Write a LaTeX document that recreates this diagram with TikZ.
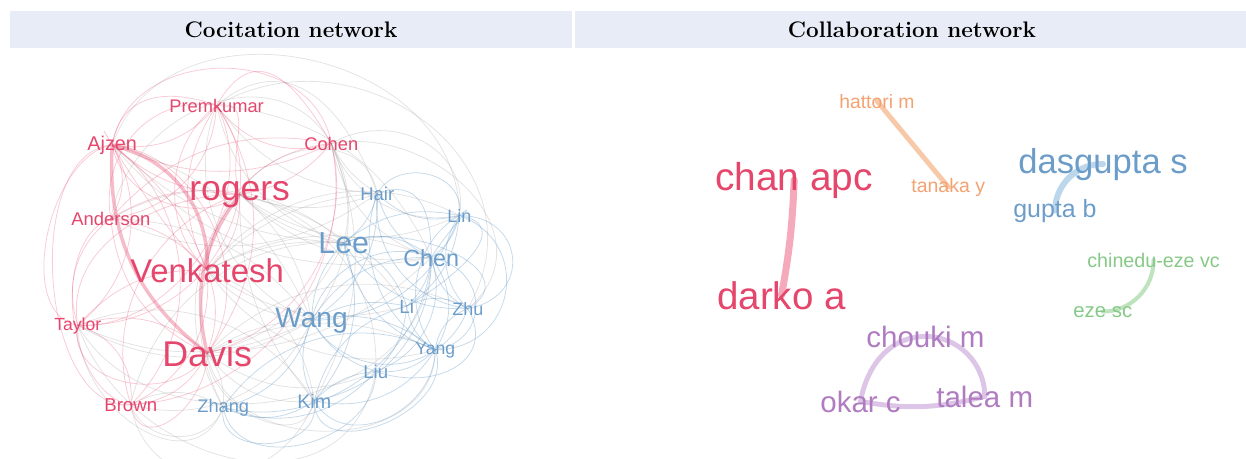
\documentclass[tikz,border=0pt]{standalone}
\usepackage{fontspec}
\setsansfont{Liberation Sans}
\pgfdeclarelayer{bg}
\pgfsetlayers{bg,main}
\definecolor{hdr}{HTML}{E8ECF6}
\definecolor{cred}{HTML}{E5466C}
\definecolor{cblue}{HTML}{6C9DC9}
\definecolor{cgray}{HTML}{9C9C9C}
\definecolor{corange}{HTML}{F3A272}
\definecolor{cpurple}{HTML}{B07CC0}
\definecolor{cgreen}{HTML}{86C987}
\definecolor{epink}{HTML}{F4AABB}
\definecolor{eorange}{HTML}{F8C9A9}
\definecolor{eblue}{HTML}{BCD6EB}
\definecolor{egreen}{HTML}{BFE3BF}
\definecolor{epurple}{HTML}{DCC5E6}
\newcommand\fsz[1]{\fontsize{#1}{#1}\selectfont}
\tikzset{
  lbl/.style={anchor=base west, inner sep=0pt},
  hdrbar/.style={fill=hdr, draw=none},
  hdrtxt/.style={anchor=base, inner sep=0pt, font=\fsz{12.8}\bfseries},
  pe/.style={draw=cred, opacity=0.28, line width=0.45pt},
  tpe/.style={draw=cred, opacity=0.36, line width=2pt},
  be/.style={draw=cblue, opacity=0.38, line width=0.45pt},
  ge/.style={draw=cgray, opacity=0.28, line width=0.45pt},
  coll/.style={line width=#1, line cap=round},
}
\begin{document}
\begin{tikzpicture}[x=0.02cm,y=0.02cm]
\useasboundingbox (0,0) rectangle (1246,458);
% headers
\fill[hdrbar] (10,410) rectangle (572,447);
\fill[hdrbar] (575,410) rectangle (1246,447);
\node[hdrtxt] (h1) at (291,421) {Cocitation network};
\node[hdrtxt] (h2) at (912,421) {Collaboration network};

% ---- cocitation labels ----
\node[lbl, text=cred, font=\sffamily\fsz{10.4}] (P) at (169,346) {Premkumar};
\node[lbl, text=cred, font=\sffamily\fsz{11.3}] (A) at (87,308) {Ajzen};
\node[lbl, text=cred, font=\sffamily\fsz{10.4}] (C) at (304,308) {Cohen};
\node[lbl, text=cred, font=\sffamily\fsz{20.2}] (R) at (189,258) {rogers};
\node[lbl, text=cred, font=\sffamily\fsz{10.5}] (An) at (71,233) {Anderson};
\node[lbl, text=cblue, font=\sffamily\fsz{10.5}] (H) at (360,258) {Hair};
\node[lbl, text=cblue, font=\sffamily\fsz{10.2}] (Ln) at (447,236) {Lin};
\node[lbl, text=cblue, font=\sffamily\fsz{17.3}] (Le) at (318,205) {Lee};
\node[lbl, text=cblue, font=\sffamily\fsz{13.3}] (Ch) at (403,192) {Chen};
\node[lbl, text=cred, font=\sffamily\fsz{18.7}] (V) at (130,176) {Venkatesh};
\node[lbl, text=cblue, font=\sffamily\fsz{16.0}] (W) at (275,131) {Wang};
\node[lbl, text=cblue, font=\sffamily\fsz{10.8}] (Li) at (399,145) {Li};
\node[lbl, text=cblue, font=\sffamily\fsz{10.2}] (Zu) at (452,143) {Zhu};
\node[lbl, text=cred, font=\sffamily\fsz{10.0}] (T) at (54,128) {Taylor};
\node[lbl, text=cred, font=\sffamily\fsz{20.4}] (D) at (162,92) {Davis};
\node[lbl, text=cblue, font=\sffamily\fsz{10.0}] (Y) at (415,104) {Yang};
\node[lbl, text=cblue, font=\sffamily\fsz{10.6}] (Lu) at (363,80) {Liu};
\node[lbl, text=cred, font=\sffamily\fsz{10.6}] (B) at (104,47) {Brown};
\node[lbl, text=cblue, font=\sffamily\fsz{10.4}] (Zg) at (197,46) {Zhang};
\node[lbl, text=cblue, font=\sffamily\fsz{11.2}] (K) at (297,50) {Kim};

% ---- collaboration labels ----
\node[lbl, text=corange, font=\sffamily\fsz{11.0}] (hat) at (839,350) {hattori m};
\node[lbl, text=corange, font=\sffamily\fsz{11.1}] (tan) at (911,266) {tanaka y};
\node[lbl, text=cred, font=\sffamily\fsz{22.1}] (cha) at (715,268) {chan apc};
\node[lbl, text=cred, font=\sffamily\fsz{21.9}] (dar) at (717,149) {darko a};
\node[lbl, text=cpurple, font=\sffamily\fsz{16.8}] (cho) at (866,111) {chouki m};
\node[lbl, text=cpurple, font=\sffamily\fsz{16.8}] (oka) at (820,46) {okar c};
\node[lbl, text=cpurple, font=\sffamily\fsz{16.8}] (tal) at (936,51) {talea m};
\node[lbl, text=cblue, font=\sffamily\fsz{19.7}] (das) at (1018,285) {dasgupta s};
\node[lbl, text=cblue, font=\sffamily\fsz{14.2}] (gup) at (1013,241) {gupta b};
\node[lbl, text=cgreen, font=\sffamily\fsz{11.2}] (chi) at (1087,191) {chinedu-eze vc};
\node[lbl, text=cgreen, font=\sffamily\fsz{11.6}] (eze) at (1073,141) {eze sc};

\begin{pgfonlayer}{bg}
% gray cross-cluster edges
\foreach \a/\b/\c in {R/Le/-15, R/W/20, R/Ch/-25, R/H/-20, V/Le/15, V/W/-20, V/Ch/25, V/Zg/-20, D/W/15, D/Le/-25, D/Zg/20, D/K/-30, A/Le/-20, A/W/25, C/H/-15, C/Le/20, P/Le/-30, An/W/25, T/W/-25, B/Zg/30, R/Zg/-35, V/K/30, D/Ch/-20, P/H/-25, C/Ch/-30, R/Li/20, V/Li/-25, D/Y/25, A/Ch/-30, An/Le/35, T/K/40, B/W/-40, C/W/30, P/W/-45, R/Lu/40, V/Y/-35, D/Lu/-30, An/H/-30, C/Ln/-40, R/Ln/-30, V/Ln/40, D/Zu/35, Le/B/-40, W/T/30, C/K/25, P/Ch/30, R/K/-20, V/H/20}
  \draw[ge] (\a.center) to[bend left=\c] (\b.center);
\foreach \a/\b/\o/\i/\l in {D/K/270/260/1.2, R/H/60/100/1.2, C/Ln/30/80/1.2, P/H/40/110/1.3, B/Zg/290/250/1.2, T/Zg/270/250/1.3, A/Ln/70/90/1.2, P/Zu/30/60/1.3, T/Lu/290/260/1.3, B/K/280/250/1.4, D/Y/280/270/1.2, C/Zu/10/40/1.3, An/C/80/120/1.2, T/Ch/300/270/1.1}
  \draw[ge] (\a.center) to[out=\o,in=\i,looseness=\l] (\b.center);
% pink edges
\foreach \a/\b/\c in {A/R/-20, A/V/15, A/An/30, A/P/-30, A/C/-25, A/T/40, A/B/50, P/R/20, P/V/-30, P/D/35, P/C/-35, C/R/20, C/V/-40, C/D/45, R/V/25, R/An/-20, R/T/40, R/B/-45, An/V/20, An/D/-30, V/D/20, V/T/-25, V/B/35, T/D/30, B/D/-30, T/B/40, An/T/-35, P/An/40, C/An/-30, P/T/60, C/B/50, R/A/60, D/A/-60, V/P/50}
  \draw[pe] (\a.center) to[bend left=\c] (\b.center);
\foreach \a/\b/\o/\i/\l in {A/T/190/170/0.9, A/B/185/185/0.9, P/A/160/80/1.2, P/C/60/120/1.6, R/P/110/10/1.2, T/D/260/240/1.2, B/D/280/270/1.5, An/B/200/170/0.9, A/C/80/100/1.2, T/R/100/180/1.0, An/P/100/170/1.1, V/A/140/120/1.1}
  \draw[pe] (\a.center) to[out=\o,in=\i,looseness=\l] (\b.center);
\draw[tpe] (A.center) to[bend right=28] (D.center);
\draw[tpe] (R.center) to[bend right=25] (D.center);
\draw[tpe] (A.center) to[bend left=40] (V.center);
% blue edges
\foreach \a/\b/\c in {H/Le/20, H/Ch/-25, H/W/30, H/Ln/-30, Ln/Ch/20, Ln/Le/-25, Le/Ch/30, Le/W/-20, Le/Li/25, Ch/W/-30, Ch/Li/20, Ch/Zu/-25, Ch/Y/35, W/Li/20, W/K/-25, W/Zg/30, W/Lu/-20, W/Y/25, Li/Zu/30, Li/Y/-25, Li/Lu/20, Zu/Y/-30, Y/Lu/25, Lu/K/-20, K/Zg/30, Zg/Lu/-35, Ln/Zu/-40, Le/Y/-30, Ch/K/40, H/Y/-40, Ln/W/35, H/Zu/-45, Le/K/30, Zg/Y/40, K/Y/-35, Ln/Li/25, Le/Zu/-30, W/Ch/50, Lu/Ch/-45, Zg/Ch/-50, K/Li/30, Ln/Y/-50}
  \draw[be] (\a.center) to[bend left=\c] (\b.center);
\foreach \a/\b/\o/\i/\l in {Ln/Zu/0/10/1.8, Ch/Y/-10/10/1.6, H/Ln/60/80/1.3, K/Y/270/290/1.3, Zg/Lu/280/270/1.2, W/Zu/300/250/1.2, Le/Zu/20/30/1.3, Zu/Lu/-60/-20/1.4, Ln/Y/-20/0/1.5, Zg/K/260/280/1.5, Ch/Ln/60/40/1.5, Li/Ln/30/-10/1.4, Y/K/-90/-60/1.2, H/Ch/20/90/1.4}
  \draw[be] (\a.center) to[out=\o,in=\i,looseness=\l] (\b.center);

% collaboration edges
\draw[coll=4pt, draw=epink] (cha.center) to[bend left=4] (dar.center);
\draw[coll=2.8pt, draw=eorange] (hat.center) -- (tan.center);
\draw[coll=3.4pt, draw=eblue] (das.center) to[bend right=45] (gup.center);
\draw[coll=2.3pt, draw=egreen] (chi.center) to[bend left=45] (eze.center);
\draw[coll=2.8pt, draw=epurple] (oka.center) to[out=80,in=180] (cho.center);
\draw[coll=2.8pt, draw=epurple] (cho.center) to[out=0,in=90] (tal.center);
\draw[coll=2.8pt, draw=epurple] (oka.center) to[bend right=12] (tal.center);
\end{pgfonlayer}
\end{tikzpicture}
\end{document}
